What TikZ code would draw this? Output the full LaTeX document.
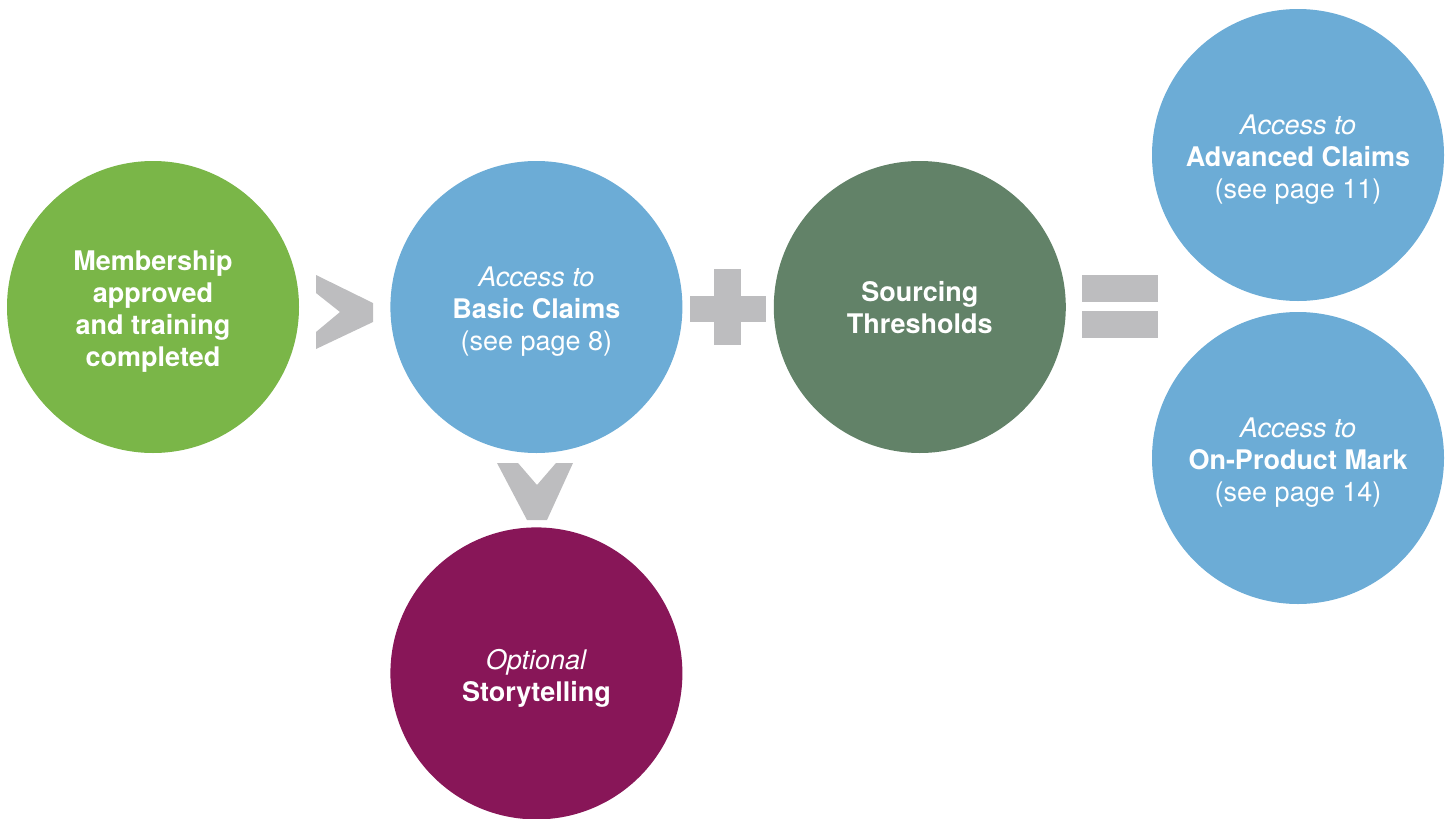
\documentclass[tikz,border=0pt]{standalone}
\usepackage{fontspec}
\setmainfont{TeX Gyre Heros}
\usetikzlibrary{positioning}
\definecolor{colMember}{RGB}{122,182,72}
\definecolor{colAccess}{RGB}{108,172,214}
\definecolor{colSource}{RGB}{98,130,104}
\definecolor{colStory}{RGB}{136,22,88}
\definecolor{colOp}{RGB}{189,189,191}

\begin{document}
\begin{tikzpicture}[
  x=1pt, y=-1pt,
  node distance=91pt,
  disc/.style={circle, minimum size=292pt, inner sep=0pt},
  txt/.style={text=white, align=center, yshift=-4.5pt,
              font=\fontsize{27}{32}\selectfont},
  op/.style={fill=colOp},
]
\useasboundingbox (0,0) rectangle (1454,819);

\node[disc, fill=colMember,
  label={[txt]center:{\textbf{Membership}\\\textbf{approved}\\\textbf{and training}\\\textbf{completed}}}]
  (member) at (153,307) {};
\node[disc, fill=colAccess, right=of member,
  label={[txt]center:{\textit{Access to}\\\textbf{Basic Claims}\\(see page 8)}}]
  (basic) {};
\node[disc, fill=colSource, right=of basic,
  label={[txt, yshift=4pt]center:{\textbf{Sourcing}\\\textbf{Thresholds}}}]
  (source) {};
\node[disc, fill=colAccess,
  label={[txt]center:{\textit{Access to}\\\textbf{Advanced Claims}\\(see page 11)}}]
  (advanced) at (1298,155) {};
\node[disc, fill=colAccess,
  label={[txt]center:{\textit{Access to}\\\textbf{On-Product Mark}\\(see page 14)}}]
  (mark) at (1298,458) {};
\node[disc, fill=colStory, below=74pt of basic,
  label={[txt]center:{\textit{Optional}\\\textbf{Storytelling}}}]
  (story) {};

% operators between the circles
\fill[op] (316,275) -- (373,303) -- (373,322) -- (316,349) -- (316,332)
  -- (340,312) -- (316,293) -- cycle;
\fill[op] (714,269) rectangle (741,345);
\fill[op] (690,296) rectangle (766,322);
\fill[op] (1082,275) rectangle (1158,302);
\fill[op] (1082,311) rectangle (1158,338);
\fill[op] (497,463) -- (518,463) -- (537,485) -- (556,463) -- (573,463)
  -- (547,520) -- (527,520) -- cycle;
\end{tikzpicture}
\end{document}
